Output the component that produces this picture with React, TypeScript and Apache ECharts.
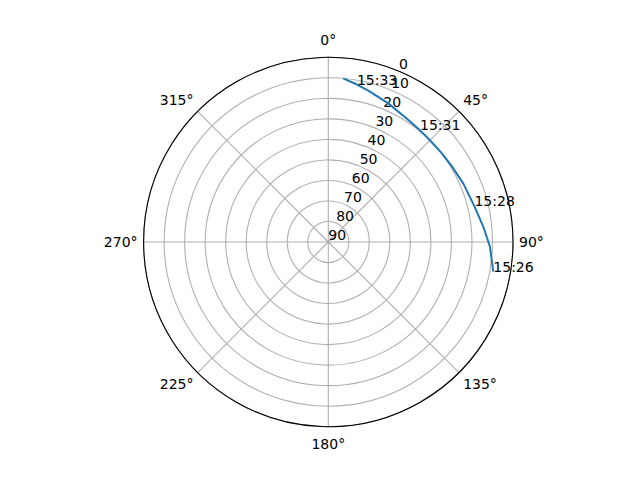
import { useEffect, useRef } from 'react'
import * as echarts from 'echarts'

// Satellite pass: azimuth (deg, clockwise from N), elevation (deg)
const AZIMUTH = [100.2, 91.7, 84.4, 76.3, 66.5, 58.3, 51.5, 44.0, 39.4, 33.3, 23.4, 14.8, 10.3, 5.2]
const ELEVATION = [8.3, 11.2, 14.1, 16.7, 18.3, 19.4, 19.8, 19.9, 19.6, 18.9, 16.4, 13.7, 12.0, 9.9]
const TIME_LABELS = ['15:26', '', '', '15:28', '', '', '', '', '15:31', '', '', '', '15:33', '']

const LINE_COLOR = '#1f77b4'
const GRID_COLOR = '#b0b0b0'
const FONT = 'DejaVu Sans'
const FONT_SIZE = 14
const CENTER = [328.3, 242]
const RADIUS = 184.7

export default function App() {
  const ref = useRef<HTMLDivElement>(null)

  useEffect(() => {
    const el = ref.current
    if (!el) return
    const chart = echarts.init(el, undefined, { renderer: 'svg' })

    const pass = AZIMUTH.map((az, i) => [ELEVATION[i], az])
    const marks = TIME_LABELS.map((t, i) => ({ name: t, value: [ELEVATION[i], AZIMUTH[i]] })).filter(
      (d) => d.name !== '',
    )

    // matplotlib centres the angle labels on a ring; echarts aligns their edge,
    // so the top/bottom ones get a little extra room
    const angleRich = {
      top: { padding: [0, 0, 4, 0], fontSize: FONT_SIZE, color: '#000000', fontFamily: FONT },
      bottom: { padding: [4, 0, 0, 0], fontSize: FONT_SIZE, color: '#000000', fontFamily: FONT },
      side: { fontSize: FONT_SIZE, color: '#000000', fontFamily: FONT },
    }

    chart.setOption({
      animation: false,
      backgroundColor: '#ffffff',
      textStyle: { fontFamily: FONT },
      polar: [
        { center: CENTER, radius: RADIUS },
        // second polar only carries the radial labels, set at 22.5 deg past north
        { center: CENTER, radius: RADIUS },
      ],
      angleAxis: [
        {
          polarIndex: 0,
          type: 'value',
          min: 0,
          max: 360,
          interval: 45,
          startAngle: 90,
          clockwise: true,
          axisLine: { lineStyle: { color: '#000000', width: 1.1 } },
          axisTick: { show: false },
          axisLabel: {
            margin: 6,
            color: '#000000',
            fontSize: FONT_SIZE,
            fontFamily: FONT,
            rich: angleRich,
            formatter: (v: number) => {
              const key = v === 0 ? 'top' : v === 180 ? 'bottom' : 'side'
              return `{${key}|${v}°}`
            },
          },
          splitLine: { show: true, lineStyle: { color: GRID_COLOR, width: 1.1 } },
        },
        {
          polarIndex: 1,
          type: 'value',
          min: 0,
          max: 360,
          startAngle: 67.5,
          show: false,
        },
      ],
      radiusAxis: [
        {
          polarIndex: 0,
          type: 'value',
          min: 0,
          max: 90,
          interval: 10,
          inverse: true,
          axisLine: { show: false },
          axisTick: { show: false },
          axisLabel: { show: false },
          splitLine: { show: true, lineStyle: { color: GRID_COLOR, width: 1.1 } },
        },
        {
          polarIndex: 1,
          type: 'value',
          min: 0,
          max: 90,
          interval: 10,
          inverse: true,
          axisLine: { show: false },
          axisTick: { show: false },
          splitLine: { show: false },
          splitArea: { show: false },
          axisLabel: {
            show: true,
            margin: 0,
            align: 'left',
            verticalAlign: 'bottom',
            showMinLabel: true,
            showMaxLabel: true,
            color: '#000000',
            fontSize: FONT_SIZE,
            fontFamily: FONT,
          },
        },
      ],
      series: [
        {
          type: 'line',
          coordinateSystem: 'polar',
          polarIndex: 0,
          data: pass,
          symbol: 'none',
          smooth: false,
          lineStyle: { color: LINE_COLOR, width: 2 },
          z: 3,
        },
        {
          type: 'scatter',
          coordinateSystem: 'polar',
          polarIndex: 0,
          data: marks,
          symbolSize: 0,
          itemStyle: { color: 'rgba(0,0,0,0)', opacity: 1 },
          label: {
            show: true,
            position: 'right',
            distance: 0,
            offset: [0, -5],
            formatter: '{b}',
            color: '#000000',
            opacity: 1,
            fontSize: FONT_SIZE,
            fontFamily: FONT,
          },
          z: 4,
        },
      ],
    })

    return () => {
      chart.dispose()
    }
  }, [])

  return (
    <div
      ref={ref}
      style={{ position: 'fixed', left: 0, top: 0, width: 640, height: 480, background: '#ffffff' }}
    />
  )
}
